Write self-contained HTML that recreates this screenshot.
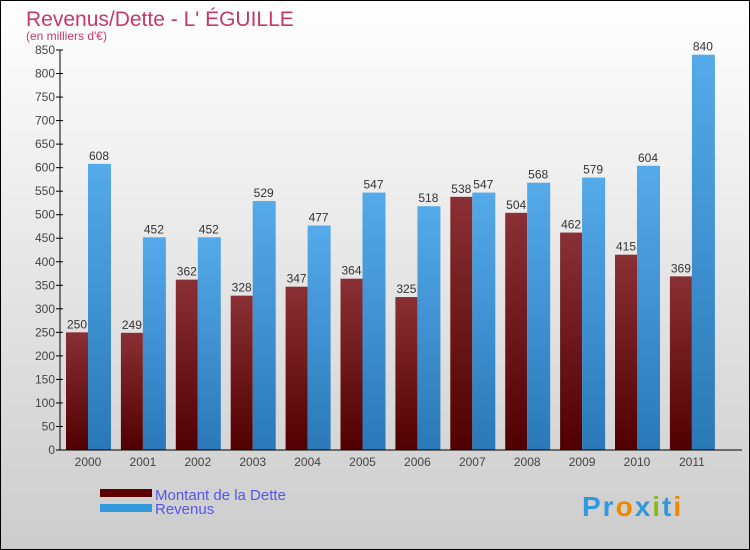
<!DOCTYPE html>
<html><head><meta charset="utf-8"><style>
body{margin:0;width:750px;height:550px;overflow:hidden}
svg{display:block;font-family:"Liberation Sans",sans-serif}
</style></head><body>
<svg id="c" width="750" height="550">
<defs>
<linearGradient id="bg" x1="0" y1="0" x2="0" y2="1"><stop offset="0" stop-color="#ffffff"/><stop offset="1" stop-color="#cccccc"/></linearGradient>
<linearGradient id="gd" x1="0" y1="0" x2="0" y2="1"><stop offset="0" stop-color="#8a3035"/><stop offset="1" stop-color="#500000"/></linearGradient>
<linearGradient id="gr" x1="0" y1="0" x2="0" y2="1"><stop offset="0" stop-color="#55aaea"/><stop offset="1" stop-color="#2a78b8"/></linearGradient>
</defs>
<rect x="0.5" y="0.5" width="749" height="549" fill="url(#bg)" stroke="#000"/>
<text x="26" y="26" font-size="21" fill="#c8386a">Revenus/Dette - L' ÉGUILLE</text>
<text x="26" y="40" font-size="12" fill="#c8386a">(en milliers d'€)</text>
<g id="plot"></g>
<rect x="100" y="489" width="52" height="8" fill="#5a0000"/>
<rect x="100" y="504" width="52" height="8" fill="#3399dd"/>
<text x="155" y="500" font-size="15" fill="#5555ee">Montant de la Dette</text>
<text x="155" y="514" font-size="15" fill="#5555ee">Revenus</text>
<text x="582" y="516" font-size="28" font-weight="bold" letter-spacing="2"><tspan fill="#3399dd">Pr</tspan><tspan fill="#ee8800">o</tspan><tspan fill="#3399dd">x</tspan><tspan fill="#88bb22">i</tspan><tspan fill="#3399dd">t</tspan><tspan fill="#ee8800">i</tspan></text>
</svg>
<script>
const years=["2000","2001","2002","2003","2004","2005","2006","2007","2008","2009","2010","2011"];
const dette=[250,249,362,328,347,364,325,538,504,462,415,369];
const revenus=[608,452,452,529,477,547,518,547,568,579,604,840];
const ticks=[0,50,100,150,200,250,300,350,400,450,500,550,600,650,700,750,800,850];
const NS="http://www.w3.org/2000/svg";
const g=document.getElementById('plot');
const x0=60,x1=742,y0=450,y1=50,maxV=850;
const bw=54.9;
const y=v=>y0-(v/maxV)*(y0-y1);
const xg=i=>x0+i*bw;
function el(t,a,txt){const e=document.createElementNS(NS,t);for(const k in a)e.setAttribute(k,a[k]);if(txt!=null)e.textContent=txt;g.appendChild(e);return e;}
ticks.forEach(t=>{
 const l=el('line',{x1:x0-4,x2:x0+3,y1:y(t),y2:y(t),stroke:'#000'});
 
 
 const tx=el('text',{x:x0-5,y:y(t)+4,'font-size':12,'text-anchor':'end',fill:'#444'},t);
 
 
});
years.forEach((yr,i)=>{
 const gx=xg(i),w=22,s=gx+6;
 const b1=el('rect',{x:s,y:y(dette[i]),width:w,height:y0-y(dette[i]),fill:'url(#gd)'});
 
 
 const b2=el('rect',{x:s+w,y:y(revenus[i]),width:w+1,height:y0-y(revenus[i]),fill:'url(#gr)'});
 
 
 const l1=el('text',{x:s+w/2,y:y(dette[i])-4,'font-size':12,'text-anchor':'middle',fill:'#333'},dette[i]);
 
 
 const l2=el('text',{x:s+w*1.5,y:y(revenus[i])-4,'font-size':12,'text-anchor':'middle',fill:'#333'},revenus[i]);
 
 
 const xl=el('text',{x:s+w,y:y0+16,'font-size':12,'text-anchor':'middle',fill:'#444'},yr);
 
 
});
const ya=el('line',{x1:x0,x2:x0,y1:y1,y2:y0,stroke:'#000'});


const xa=el('line',{x1:x0,x2:x1,y1:y0,y2:y0,stroke:'#000'});


</script>
</body></html>
